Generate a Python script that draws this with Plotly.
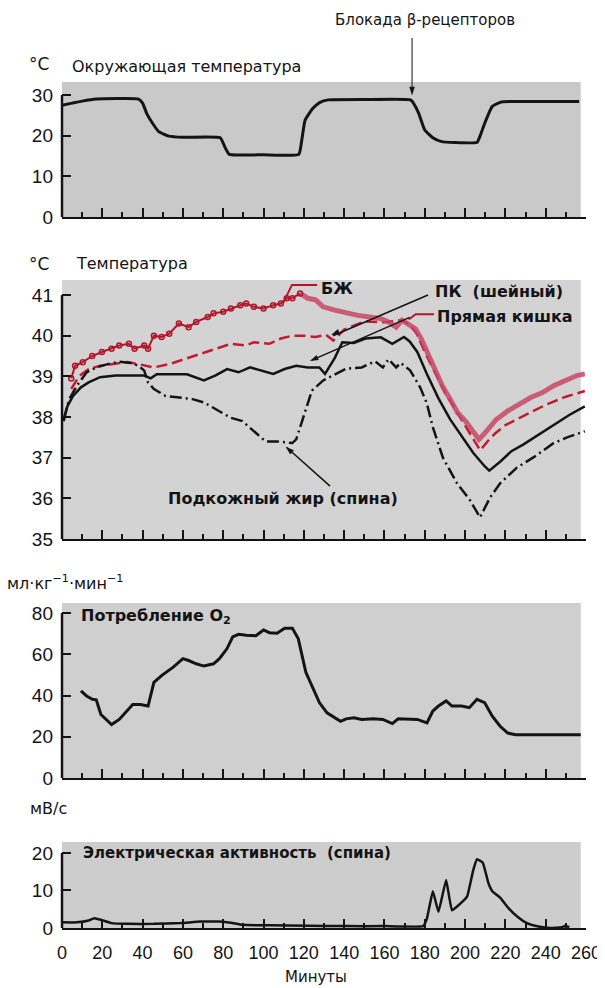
import plotly.graph_objects as go

# ---------------- data ----------------
amb_t = [0, 5, 10, 17, 38, 40, 42, 45, 48, 53, 60, 78.5, 81, 83, 100, 117.5, 119, 120.6, 124.4,
         128, 132, 150, 173, 175, 177, 180, 184, 188, 195, 206, 207.5, 209.7, 213.5, 218, 230, 256.6]
amb_v = [27.5, 28.0, 28.5, 29.0, 29.0, 28.0, 25.5, 23.0, 21.0, 19.9, 19.6, 19.5, 17.0, 15.4, 15.3,
         15.4, 19.0, 23.8, 26.7, 28.2, 28.8, 28.9, 28.8, 27.5, 25.5, 21.4, 19.5, 18.6, 18.3, 18.4,
         20.0, 23.0, 27.2, 28.3, 28.4, 28.4]

bat_t = [4.6, 6.5, 10.3, 15, 19.8, 24.6, 28.4, 33.2, 36, 40.8, 42.7, 45.6, 49.4, 53.2, 58, 62.8,
         66.6, 72.3, 75.2, 80, 83.8, 88.5, 91.4, 95.2, 100, 104.8, 108.6, 111.5, 114.3, 118.1,
         122, 125.8, 129.6, 135.3, 141, 146.8, 152.5, 158.2, 162, 165.8, 168.7, 171.6, 175.4,
         178.2, 181, 185, 188.7, 192.6, 196.4, 200.2, 204, 206.9, 209.7, 215.5, 221.2, 226.9,
         232.6, 238.4, 244, 249.8, 255.5, 259.4]
bat_v = [38.95, 39.26, 39.35, 39.5, 39.6, 39.68, 39.76, 39.8, 39.68, 39.76, 39.68, 40.0, 39.97,
         40.05, 40.3, 40.21, 40.34, 40.46, 40.55, 40.59, 40.67, 40.75, 40.79, 40.71, 40.67,
         40.75, 40.79, 40.92, 40.92, 41.04, 40.92, 40.88, 40.71, 40.63, 40.55, 40.5, 40.46,
         40.42, 40.34, 40.21, 40.38, 40.3, 40.17, 39.93, 39.6, 39.18, 38.77, 38.44, 38.1, 37.9,
         37.65, 37.45, 37.6, 37.94, 38.15, 38.31, 38.48, 38.6, 38.77, 38.9, 39.02, 39.06]

cerv_t = [4.6, 8.4, 13.2, 18.9, 24.6, 32.3, 38, 45.6, 53.2, 60.9, 68.5, 76.1, 83.8, 91.4, 95.2,
          102.9, 108.6, 114.3, 120, 125.8, 131, 134.6, 140, 150, 160, 168, 172, 176, 180, 185,
          190, 195, 200, 205, 207.5, 212, 215, 220, 230, 240, 250, 259.4]
cerv_v = [38.69, 39.0, 39.18, 39.26, 39.3, 39.35, 39.3, 39.22, 39.3, 39.43, 39.55, 39.68, 39.8,
          39.76, 39.84, 39.8, 39.93, 40.0, 40.0, 39.97, 40.02, 39.88, 40.15, 40.35, 40.33, 40.38,
          40.3, 40.05, 39.6, 39.1, 38.6, 38.2, 37.8, 37.4, 37.18, 37.45, 37.6, 37.8, 38.05, 38.3,
          38.5, 38.64]

rect_t = [0.8, 2.7, 5.5, 9.4, 13.2, 18.9, 26.5, 34.2, 40.8, 44, 47, 51.3, 62, 70.4, 76, 81.9,
          87.6, 93.3, 99, 104.8, 110.5, 116.2, 122, 127.7, 130.5, 135.3, 139.1, 144.8, 150.6,
          158.2, 163.9, 169.7, 172.5, 176.3, 181.1, 186.8, 192.6, 198.3, 204, 209.7, 212,
          217.4, 223, 228.8, 234.5, 240.3, 246, 251.7, 259.4]
rect_v = [37.9, 38.27, 38.52, 38.73, 38.85, 38.98, 39.02, 39.02, 39.02, 38.95, 39.05, 39.05,
          39.05, 38.9, 39.02, 39.18, 39.1, 39.22, 39.14, 39.06, 39.18, 39.26, 39.22, 39.22,
          39.06, 39.45, 39.84, 39.82, 39.93, 39.96, 39.8, 39.97, 39.86, 39.6, 39.05, 38.46,
          37.94, 37.53, 37.12, 36.79, 36.68, 36.9, 37.16, 37.32, 37.5, 37.69, 37.86, 38.05, 38.26]

fat_t = [0.8, 3.6, 7.4, 12.2, 17, 22.7, 28.4, 34.2, 38, 40.8, 42.7, 45.6, 51.3, 57.1, 64.7,
         70.4, 76.1, 83.8, 89.5, 95.2, 101, 106.7, 114.3, 116.2, 120, 124, 129.6, 135.3, 141,
         148.7, 155.3, 159.2, 162, 165.8, 168, 172.7, 177.7, 181, 184, 189, 196, 202.5, 207.4,
         212.4, 217.4, 225.8, 233.7, 243.7, 250.6, 259.4]
fat_v = [37.94, 38.44, 38.77, 39.1, 39.22, 39.3, 39.36, 39.33, 39.26, 39.14, 38.85, 38.69,
         38.52, 38.48, 38.44, 38.36, 38.19, 37.98, 37.9, 37.65, 37.4, 37.4, 37.36, 37.45, 38.05,
         38.65, 38.9, 39.05, 39.19, 39.22, 39.37, 39.22, 39.42, 39.22, 39.33, 39.15, 38.73,
         38.34, 37.75, 37.0, 36.37, 35.95, 35.53, 36.02, 36.37, 36.76, 37.0, 37.35, 37.5, 37.65]

o2_t = [9.4, 12.2, 15.1, 17, 19.3, 21.8, 24.6, 28.4, 32.3, 35.1, 38.9, 42.7, 45.6, 49.4, 55.2,
        60, 62.8, 66.6, 70.4, 75.2, 78.1, 81.9, 84.7, 87.6, 91.4, 96.2, 100, 102.9, 106.7, 110.5,
        114.3, 117.2, 121, 123.9, 127.7, 131.5, 135.3, 138.2, 141, 144.8, 148.7, 154.4, 159.2,
        163.9, 166.8, 171.6, 176.3, 181.1, 184, 186.8, 190.6, 193.5, 198.3, 202.1, 205.9, 209.7,
        213.5, 217.4, 221.2, 225, 232.6, 240.3, 247.9, 257.4]
o2_v = [42.3, 39.8, 38.2, 37.9, 30.8, 28.4, 25.9, 28.4, 32.5, 35.7, 35.7, 34.9, 46.4, 49.7, 53.8,
        57.9, 57.0, 55.4, 54.3, 55.4, 57.9, 62.8, 68.5, 69.7, 69.3, 69.0, 71.8, 70.5, 70.2, 72.6,
        72.6, 67.7, 51.3, 44.8, 36.6, 31.6, 29.2, 27.5, 28.7, 29.2, 28.4, 28.7, 28.4, 26.4, 28.7,
        28.7, 28.4, 26.7, 32.5, 34.9, 37.4, 34.9, 34.9, 34.1, 38.2, 36.6, 30.0, 25.1, 21.8, 21.0,
        21.0, 21.0, 21.0, 21.0]

emg_t = [0, 7.4, 13.2, 16, 19.8, 24.6, 32.3, 45.6, 59, 68.5, 78, 83.8, 89.5, 102.9, 122, 141,
         160, 179.2, 181.1, 184, 186.8, 190.6, 193.5, 198.3, 201.1, 204, 205.9, 208.8, 211.6,
         213.5, 217.4, 221.2, 226, 230.7, 236.5, 242.2, 247.9, 249.8, 251.7]
emg_v = [1.5, 1.5, 2.0, 2.6, 2.1, 1.3, 1.1, 1.1, 1.3, 1.7, 1.7, 1.4, 0.85, 0.7, 0.6, 0.5, 0.5,
         0.5, 2.6, 9.8, 4.3, 12.8, 4.7, 6.8, 8.5, 15.3, 18.3, 17.4, 11.9, 9.8, 8.1, 5.5, 3.0,
         1.3, 0.4, 0.0, 0.2, 0.6, 0.2]

x_ticks = list(range(0, 261, 20))
amb_ticks = [0, 10, 20, 30]
temp_ticks = [35, 36, 37, 38, 39, 40, 41]
o2_ticks = [0, 20, 40, 60, 80]
emg_ticks = [0, 10, 20]

# ---------------- figure ----------------
# The page body has an 8px margin, so the figure is drawn at (8, 8) in the window.
OFF = 8
PAGE_W, PAGE_H = 605, 988
W, H = PAGE_W - OFF, PAGE_H - OFF
PLOT_L, PLOT_R = 62, 586          # page pixels of x=0 and x=260
L, R = PLOT_L - OFF, PAGE_W - PLOT_R
FONT = "DejaVu Sans"
NUMFONT = "Liberation Sans"
INK = "#141414"
RED = "#b3162b"


def px_x(px):
    return (px - PLOT_L) / (PLOT_R - PLOT_L)


def px_y(py):
    return 1 - (py - OFF) / H


fig = go.Figure()

# ambient temperature
fig.add_trace(go.Scatter(x=amb_t, y=amb_v, xaxis="x", yaxis="y", mode="lines",
                         line=dict(color=INK, width=3, shape="spline", smoothing=0.4)))

# temperature panel
k = bat_t.index(118.1)
fig.add_trace(go.Scatter(x=cerv_t, y=cerv_v, xaxis="x2", yaxis="y2", mode="lines",
                         line=dict(color="#c41a30", width=2.5, dash="11px,5px")))
fig.add_trace(go.Scatter(x=bat_t[k:], y=bat_v[k:], xaxis="x2", yaxis="y2", mode="lines",
                         line=dict(color="rgba(200,70,100,0.85)", width=5)))
fig.add_trace(go.Scatter(x=bat_t[:k + 1], y=bat_v[:k + 1], xaxis="x2", yaxis="y2",
                         mode="lines+markers",
                         line=dict(color=RED, width=2),
                         marker=dict(symbol="circle-open", size=5, color=RED,
                                     line=dict(width=1.5, color=RED))))
fig.add_trace(go.Scatter(x=rect_t, y=rect_v, xaxis="x2", yaxis="y2", mode="lines",
                         line=dict(color=INK, width=2.5)))
fig.add_trace(go.Scatter(x=fat_t, y=fat_v, xaxis="x2", yaxis="y2", mode="lines",
                         line=dict(color=INK, width=2.5, dash="12px,4px,2px,4px")))

# O2
fig.add_trace(go.Scatter(x=o2_t, y=o2_v, xaxis="x3", yaxis="y3", mode="lines",
                         line=dict(color=INK, width=3)))
# EMG
fig.add_trace(go.Scatter(x=emg_t, y=emg_v, xaxis="x4", yaxis="y4", mode="lines",
                         line=dict(color=INK, width=2.5, shape="spline", smoothing=0.3)))

panels = [  # (top px, bottom px, range, ticks, yaxis name, bg)
    (82, 217, [0, 33.2], amb_ticks, "yaxis", "#c9c9c9"),
    (280, 539, [35, 41.37], temp_ticks, "yaxis2", "#d3d3d3"),
    (603, 778, [0, 84.9], o2_ticks, "yaxis3", "#cfcfcf"),
    (842, 928, [0, 22.9], emg_ticks, "yaxis4", "#cdcdcd"),
]

layout = dict(
    width=W, height=H,
    margin=dict(l=L, r=R, t=0, b=0),
    paper_bgcolor="white",
    plot_bgcolor="rgba(0,0,0,0)",
    showlegend=False,
    font=dict(family=FONT, color=INK),
)

shapes = []
for i, (top, bot, rng, ticks, yname, bg) in enumerate(panels):
    n = "" if i == 0 else str(i + 1)
    xname = "xaxis" + n
    layout[xname] = dict(
        domain=[0, 1], range=[0, 260], anchor="y" + n,
        tickmode="array", tickvals=x_ticks,
        ticktext=[str(v) for v in x_ticks],
        showticklabels=(i == 3),
        ticks="inside", ticklen=9, tickwidth=1.5, tickcolor=INK,
        minor=dict(ticks="inside", ticklen=5, tickwidth=1.5, tickcolor=INK,
                   tickmode="array", tickvals=list(range(10, 260, 20))),
        showline=True, linecolor=INK, linewidth=2,
        showgrid=False, zeroline=False, fixedrange=True,
        tickfont=dict(family=NUMFONT, size=18, color=INK),
        ticklabelstandoff=7, automargin=False,
    )
    layout[yname] = dict(
        domain=[px_y(bot), px_y(top)], range=rng, anchor="x" + n,
        tickmode="array", tickvals=ticks,
        ticks="inside", ticklen=9, tickwidth=2, tickcolor=INK,
        showline=False, showgrid=False, zeroline=False, fixedrange=True,
        tickfont=dict(family=NUMFONT, size=19, color=INK),
        ticklabelstandoff=8, automargin=False,
    )
    # grey panel background
    shapes.append(dict(type="rect", xref="x" + n + " domain", yref="y" + n + " domain",
                       x0=0, x1=0.99, y0=0, y1=1, fillcolor=bg, line=dict(width=0),
                       layer="below"))
    # y axis line from bottom to top tick
    shapes.append(dict(type="line", xref="x" + n + " domain", yref="y" + n,
                       x0=0, x1=0, y0=ticks[0], y1=ticks[-1],
                       line=dict(color=INK, width=2.5)))

# leader lines
shapes += [
    # β-blockade arrow shaft
    dict(type="line", xref="x", yref="paper", x0=173.7, x1=173.7, y0=px_y(38), y1=px_y(92),
         line=dict(color=INK, width=1)),
    # БЖ (red)
    dict(type="path", xref="x2", yref="y2",
         path="M 109.7,40.80 L 114.1,41.25 L 126.6,41.25", line=dict(color=RED, width=2)),
    # ПК
    dict(type="line", xref="x2", yref="y2", x0=181.6, y0=41.0, x1=134.5, y1=40.0,
         line=dict(color=INK, width=1.5)),
    # Прямая кишка (red part + black part)
    dict(type="path", xref="x2", yref="y2",
         path="M 184.6,40.53 L 175.5,40.53 L 172,40.40", line=dict(color=RED, width=2)),
    dict(type="line", xref="x2", yref="y2", x0=172.5, y0=40.45, x1=124, y1=39.4,
         line=dict(color=INK, width=1.5)),
    # Подкожный жир
    dict(type="line", xref="x2", yref="y2", x0=133, y0=36.3, x1=111.5, y1=37.25,
         line=dict(color=INK, width=1.5)),
]
layout["shapes"] = shapes

# arrowheads of the leader lines (pointer tips, not data)
heads_x = [173.7, 133.5, 123.0, 111.0]
heads_y = [29.9, 40.02, 39.38, 37.27]
heads_ang = [180, 248, 246, 312]
heads_ax = ["x", "x2", "x2", "x2"]
heads_ay = ["y", "y2", "y2", "y2"]
for hx, hy, ha, xa, ya in zip(heads_x, heads_y, heads_ang, heads_ax, heads_ay):
    fig.add_trace(go.Scatter(x=[hx], y=[hy], xaxis=xa, yaxis=ya, mode="markers",
                             marker=dict(symbol="arrow", size=9, angle=ha, color=INK,
                                         line=dict(width=0)),
                             hoverinfo="skip"))


def txt(s, x, y, size=16, bold=False, xanchor="left", color=INK):
    return dict(text=s, x=px_x(x), y=px_y(y), xref="paper",
                yref="paper", showarrow=False, xanchor=xanchor, yanchor="middle",
                font=dict(family=FONT, size=size, color=color,
                          weight="bold" if bold else "normal"))


ann = [
    txt("Блокада β-рецепторов", 517, 20, 15, xanchor="right"),
    txt("°C", 27, 64, 17),
    txt("Окружающая температура", 70, 66, 16),
    txt("°C", 27, 264, 17),
    txt("Температура", 74, 263, 16),
    txt("мл·кг<sup>−1</sup>·мин<sup>−1</sup>", 5, 582, 16),
    txt("Потребление O<sub>2</sub>", 79, 616, 16, bold=True),
    txt("мВ/с", 28, 808, 16),
    txt("Электрическая активность  (спина)", 81, 853, 15, bold=True),
    txt("Минуты", 316, 977, 15, xanchor="center"),
    txt("БЖ", 319, 288, 16, bold=True),
    txt("ПК  (шейный)", 433, 292, 16, bold=True),
    txt("Прямая кишка", 435, 316, 16, bold=True),
    txt("Подкожный жир (спина)", 166, 498, 16, bold=True),
]
layout["annotations"] = ann

fig.update_layout(**layout)
fig.write_html("out.html")
